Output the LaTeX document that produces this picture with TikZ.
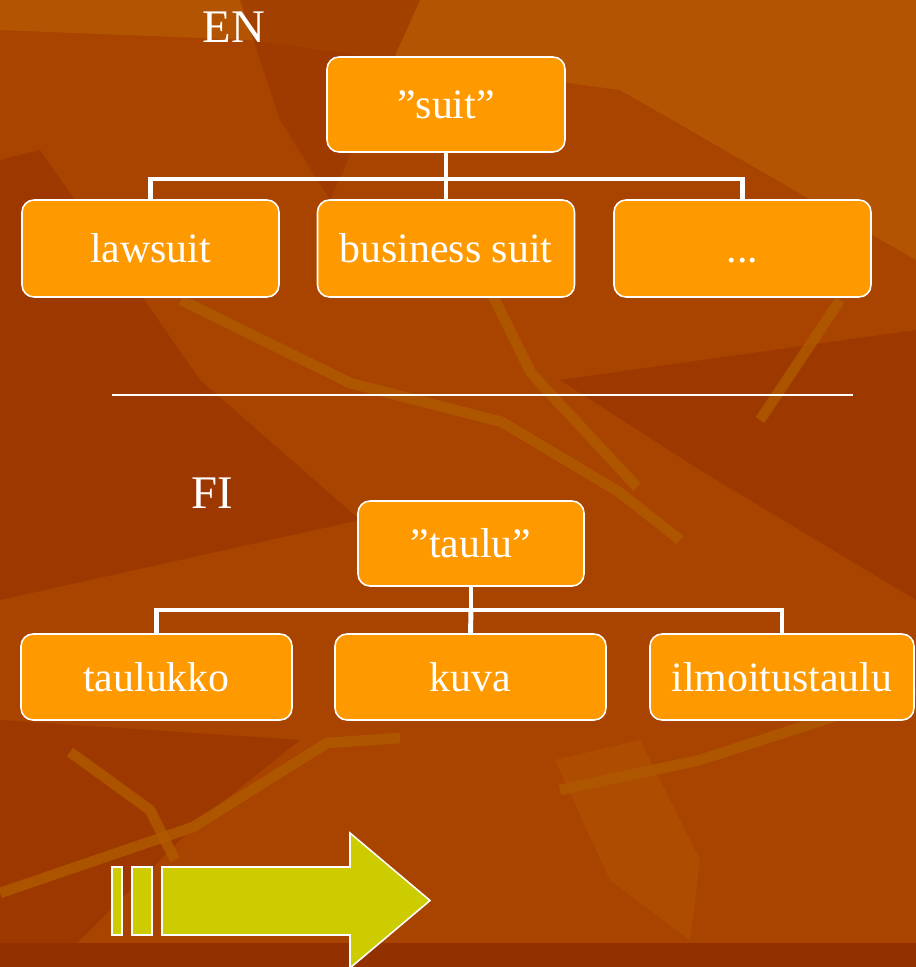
\documentclass[tikz,border=0pt]{standalone}
\usepackage{fontspec}
\setmainfont{Liberation Serif}
\definecolor{bgmain}{RGB}{168,68,0}
\definecolor{bgdark}{RGB}{156,56,0}
\definecolor{bglight}{RGB}{178,84,2}
\definecolor{bgstreak}{RGB}{176,90,0}
\definecolor{bgfoot}{RGB}{146,48,0}
\definecolor{boxfill}{RGB}{255,153,0}
\definecolor{arrowfill}{RGB}{204,204,0}

\begin{document}
\begin{tikzpicture}[x=0.02cm,y=-0.02cm,
    box/.style={draw=white,line width=0.9pt,fill=boxfill,rounded corners=0.24cm,
        text=white,font=\fontsize{23.8}{26}\selectfont,inner sep=0pt,
        text height=16.4pt,text depth=0pt},
    wide/.style={box,minimum width=5.14cm,minimum height=1.94cm},
    fiwide/.style={box,minimum width=5.42cm,minimum height=1.72cm},
    link/.style={draw=white,line width=2.8pt},
    lang/.style={text=white,font=\fontsize{26.6}{28}\selectfont,inner sep=0pt},
    streak/.style={draw=bgstreak,line width=6pt,line join=round,opacity=0.8}]
    \useasboundingbox (0,0) rectangle (916,967);
    \clip (0,0) rectangle (916,967);
    % background with some leaf streaks
    \fill[bgmain] (0,0) rectangle (916,967);
    \fill[bglight] (0,0) -- (916,0) -- (916,260) -- (620,90) -- (250,40) -- (0,30) -- cycle;
    \fill[bgdark] (0,160) -- (40,150) -- (200,380) -- (360,520) -- (0,600) -- cycle;
    \fill[bgdark] (560,380) -- (916,330) -- (916,600) -- (700,470) -- cycle;
    \fill[bgdark,opacity=0.7] (240,0) -- (420,0) -- (330,200) -- (280,120) -- cycle;
    \fill[bgdark] (0,720) -- (300,740) -- (200,820) -- (60,960) -- (0,960) -- cycle;
    \fill[bglight,opacity=0.6] (555,760) -- (640,740) -- (700,860) -- (690,940) -- (610,880) -- cycle;
    \draw[streak] (181,300) -- (350,383) -- (502,422) -- (619,492) -- (680,540);
    \draw[streak] (490,290) -- (531,373) -- (637,487);
    \draw[streak] (840,300) -- (760,420);
    \draw[streak] (0,893) -- (193,827) -- (327,743) -- (400,738);
    \draw[streak] (70,752) -- (150,810) -- (175,860);
    \draw[streak] (916,690) -- (700,760) -- (560,790);
    \fill[bgfoot] (0,943) rectangle (916,967);

    % EN tree
    \node[lang] (en) at (234,27) {EN};
    \node[box,minimum width=4.76cm,minimum height=1.9cm] (suit) at (446,104.5) {”suit”};
    \node[wide] (law) at (150.5,248.5) {lawsuit};
    \node[wide] (biz) at (446,248.5) {business suit};
    \node[wide] (dots) at (742.5,248.5) {...};
    \coordinate (enbar) at (446,179);
    \draw[link] (suit.south) -- (biz.north);
    \draw[link] (law.north) |- (enbar) -| (dots.north);

    \draw[white,line width=0.8pt] (112,395) -- (853,395);

    % FI tree
    \node[lang] (fi) at (212,493) {FI};
    \node[box,minimum width=4.52cm,minimum height=1.7cm] (taulu) at (471,543.5) {”taulu”};
    \node[fiwide] (taulukko) at (156.5,677) {taulukko};
    \node[fiwide] (kuva) at (470.5,677) {kuva};
    \node[box,minimum width=5.28cm,minimum height=1.72cm] (ilmo) at (782,677) {ilmoitustaulu};
    \coordinate (fibar) at (471,610);
    \draw[link] (taulu.south) -- (fibar);
    \draw[link] (taulukko.north) |- (fibar) -| (ilmo.north);
    \draw[link] (fibar) -- (kuva.north);

    % arrow
    \filldraw[fill=arrowfill,draw=white,line width=0.9pt] (112,867) rectangle (122,935);
    \filldraw[fill=arrowfill,draw=white,line width=0.9pt] (132,867) rectangle (152,935);
    \filldraw[fill=arrowfill,draw=white,line width=0.9pt] (162,867) -- (350,867) -- (350,833)
        -- (430,900.5) -- (350,968) -- (350,935) -- (162,935) -- cycle;
\end{tikzpicture}
\end{document}
